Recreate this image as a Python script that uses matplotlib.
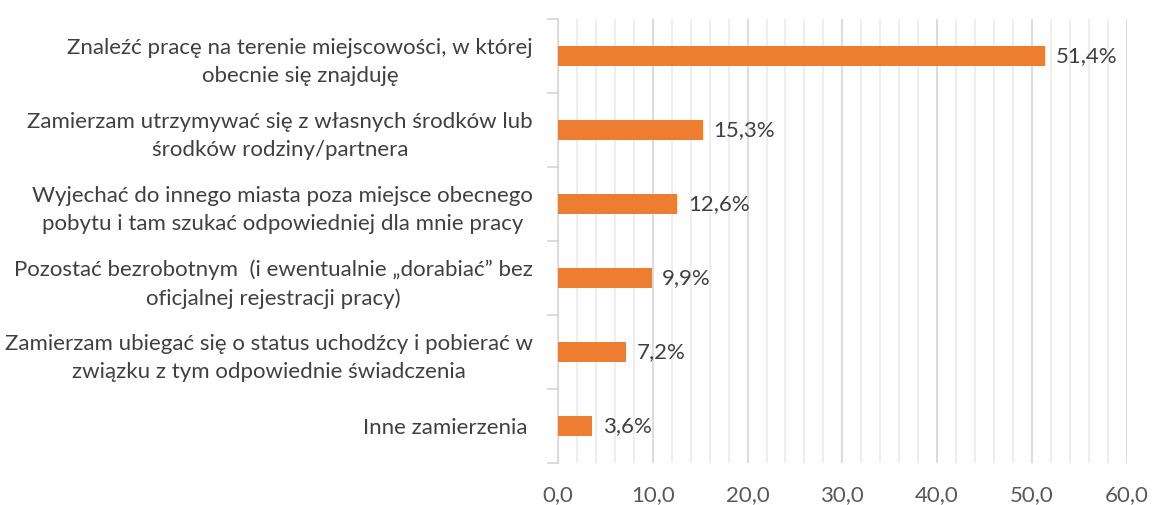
import matplotlib.pyplot as plt
from matplotlib.ticker import MultipleLocator, FuncFormatter

categories = [
    "Znaleźć pracę na terenie miejscowości, w której\nobecnie się znajduję",
    "Zamierzam utrzymywać się z własnych środków lub\nśrodków rodziny/partnera",
    "Wyjechać do innego miasta poza miejsce obecnego\npobytu i tam szukać odpowiedniej dla mnie pracy",
    "Pozostać bezrobotnym  (i ewentualnie \u201edorabiać\u201d bez\noficjalnej rejestracji pracy)",
    "Zamierzam ubiegać się o status uchodźcy i pobierać w\nzwiązku z tym odpowiednie świadczenia",
    "Inne zamierzenia ",
]
values = [51.4, 15.3, 12.6, 9.9, 7.2, 3.6]

plt.rcParams['font.family'] = ['Lato', 'DejaVu Sans']

fig = plt.figure(figsize=(11.52, 5.05), dpi=100)
ax = fig.add_axes([0.4844, 0.083, 0.4936, 0.879])

n = len(values)
ypos = list(range(n))[::-1]
ax.barh(ypos, values, height=0.27, color='#ED7D31', zorder=3)

for y, v in zip(ypos, values):
    ax.text(v + 1.1, y, ('%.1f%%' % v).replace('.', ','), va='center', ha='left',
            fontsize=16, color='#404040', zorder=4)

ax.set_xlim(0, 60)
ax.set_ylim(-0.5, n - 0.5)
ax.xaxis.set_major_locator(MultipleLocator(10))
ax.xaxis.set_minor_locator(MultipleLocator(2))
ax.xaxis.set_major_formatter(FuncFormatter(lambda x, p: ('%.1f' % x).replace('.', ',')))
ax.grid(axis='x', which='major', color='#D9D9D9', linewidth=1.3, zorder=0)
ax.grid(axis='x', which='minor', color='#EDEDED', linewidth=1.3, zorder=0)
ax.tick_params(axis='x', which='both', length=0, labelsize=16, labelcolor='#595959', pad=16)

ax.set_yticks(ypos)
ax.set_yticklabels(categories, fontsize=16, color='#404040', multialignment='center',
                   linespacing=1.5)
ax.tick_params(axis='y', which='major', length=0, pad=18)
ax.set_yticks([i - 0.5 for i in range(n + 1)], minor=True)
ax.tick_params(axis='y', which='minor', length=8, color='#D9D9D9', width=1.3)

for s in ['top', 'right', 'bottom']:
    ax.spines[s].set_visible(False)
ax.spines['left'].set_color('#D9D9D9')
ax.spines['left'].set_linewidth(1.3)

fig.savefig('out.png', dpi=100)
